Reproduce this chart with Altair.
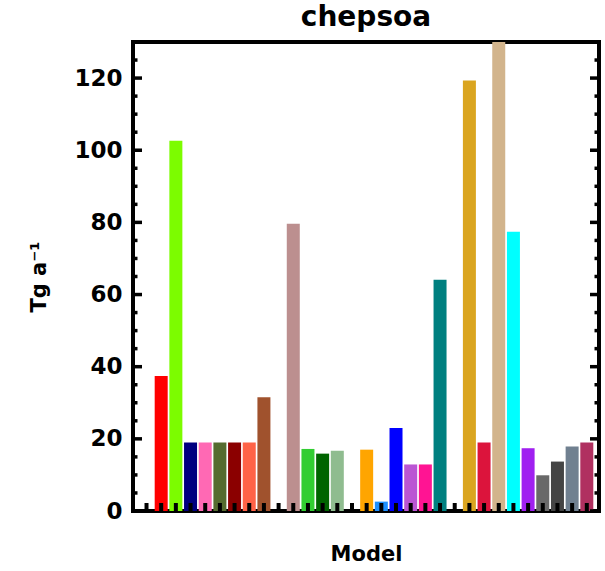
import altair as alt
import pandas as pd

# ---- data ----
slots = [1, 2, 3, 4, 5, 6, 7, 8, 10, 11, 12, 13, 15, 16, 17, 18, 19, 20,
         22, 23, 24, 25, 26, 27, 28, 29, 30]
values = [37.4, 102.6, 19.0, 19.0, 19.0, 19.0, 19.0, 31.5, 79.6, 17.2, 15.9, 16.7,
          17.0, 2.6, 23.0, 12.9, 12.9, 64.1, 119.3, 19.0, 130.0, 77.4, 17.4,
          9.9, 13.7, 17.9, 19.0]
colors = ["#FF0000", "#7CFC00", "#000080", "#FF69B4", "#556B2F", "#8B0000",
          "#FF6347", "#A0522D", "#BC8F8F", "#32CD32", "#006400", "#8FBC8F",
          "#FFA500", "#1E90FF", "#0000FF", "#BA55D3", "#FF1493", "#008080",
          "#DAA520", "#DC143C", "#D2B48C", "#00FFFF", "#A020F0", "#696969",
          "#444444", "#708090", "#B03060"]
x_ticks = list(range(0, 31))
y_major = [0, 20, 40, 60, 80, 100, 120]
y_minor = [v for v in range(0, 131, 5) if v % 20 != 0]

W, H = 466, 469
FONT = "DejaVu Sans"

bars_df = pd.DataFrame({"slot": slots, "value": values, "color": colors})
xt_df = pd.DataFrame({"slot": x_ticks})
ymaj_df = pd.DataFrame({"v": y_major})
ymin_df = pd.DataFrame({"v": y_minor})

xscale = alt.Scale(domain=[-0.58, 30.49], nice=False, zero=False)
yscale = alt.Scale(domain=[0, 130], nice=False)

bars = alt.Chart(bars_df).mark_bar(size=13, clip=True).encode(
    x=alt.X("slot:Q", scale=xscale,
            axis=alt.Axis(title="Model", labels=False, ticks=False, domain=False,
                          grid=False, titleFontSize=21, titleFont=FONT,
                          titleFontWeight="bold", titlePadding=32, titleColor="black")),
    y=alt.Y("value:Q", scale=yscale,
            axis=alt.Axis(title="Tg a⁻¹", values=y_major, ticks=False, domain=False,
                          grid=False, labelFontSize=23, labelFont=FONT,
                          labelFontWeight="bold", labelPadding=11,
                          labelColor="black", titleFontSize=21, titleFont=FONT,
                          titleFontWeight="bold", titlePadding=24, titleColor="black")),
    color=alt.Color("color:N", scale=None),
)

xt = alt.Chart(xt_df).mark_rule(color="black", strokeWidth=4).encode(
    x=alt.X("slot:Q", scale=xscale),
    y=alt.value(H), y2=alt.value(H - 8),
)

yl_major = alt.Chart(ymaj_df).mark_rule(color="black", strokeWidth=3.5).encode(
    y=alt.Y("v:Q", scale=yscale), x=alt.value(0), x2=alt.value(9))
yr_major = alt.Chart(ymaj_df).mark_rule(color="black", strokeWidth=3.5).encode(
    y=alt.Y("v:Q", scale=yscale), x=alt.value(W - 9), x2=alt.value(W))
yl_minor = alt.Chart(ymin_df).mark_rule(color="black", strokeWidth=3.5).encode(
    y=alt.Y("v:Q", scale=yscale), x=alt.value(0), x2=alt.value(4.5))
yr_minor = alt.Chart(ymin_df).mark_rule(color="black", strokeWidth=3.5).encode(
    y=alt.Y("v:Q", scale=yscale), x=alt.value(W - 4.5), x2=alt.value(W))

chart = alt.layer(bars, xt, yl_major, yr_major, yl_minor, yr_minor).properties(
    width=W, height=H,
    title=alt.TitleParams("chepsoa", font=FONT, fontSize=28, fontWeight="bold",
                          color="black", anchor="middle", offset=8),
    autosize=alt.AutoSizeParams(type="none"),
    padding={"left": 133, "top": 42, "right": 6, "bottom": 60},
    background="white",
).configure_view(stroke="black", strokeWidth=4)

chart.save("out.html", embed_options={"renderer": "svg", "actions": False})
